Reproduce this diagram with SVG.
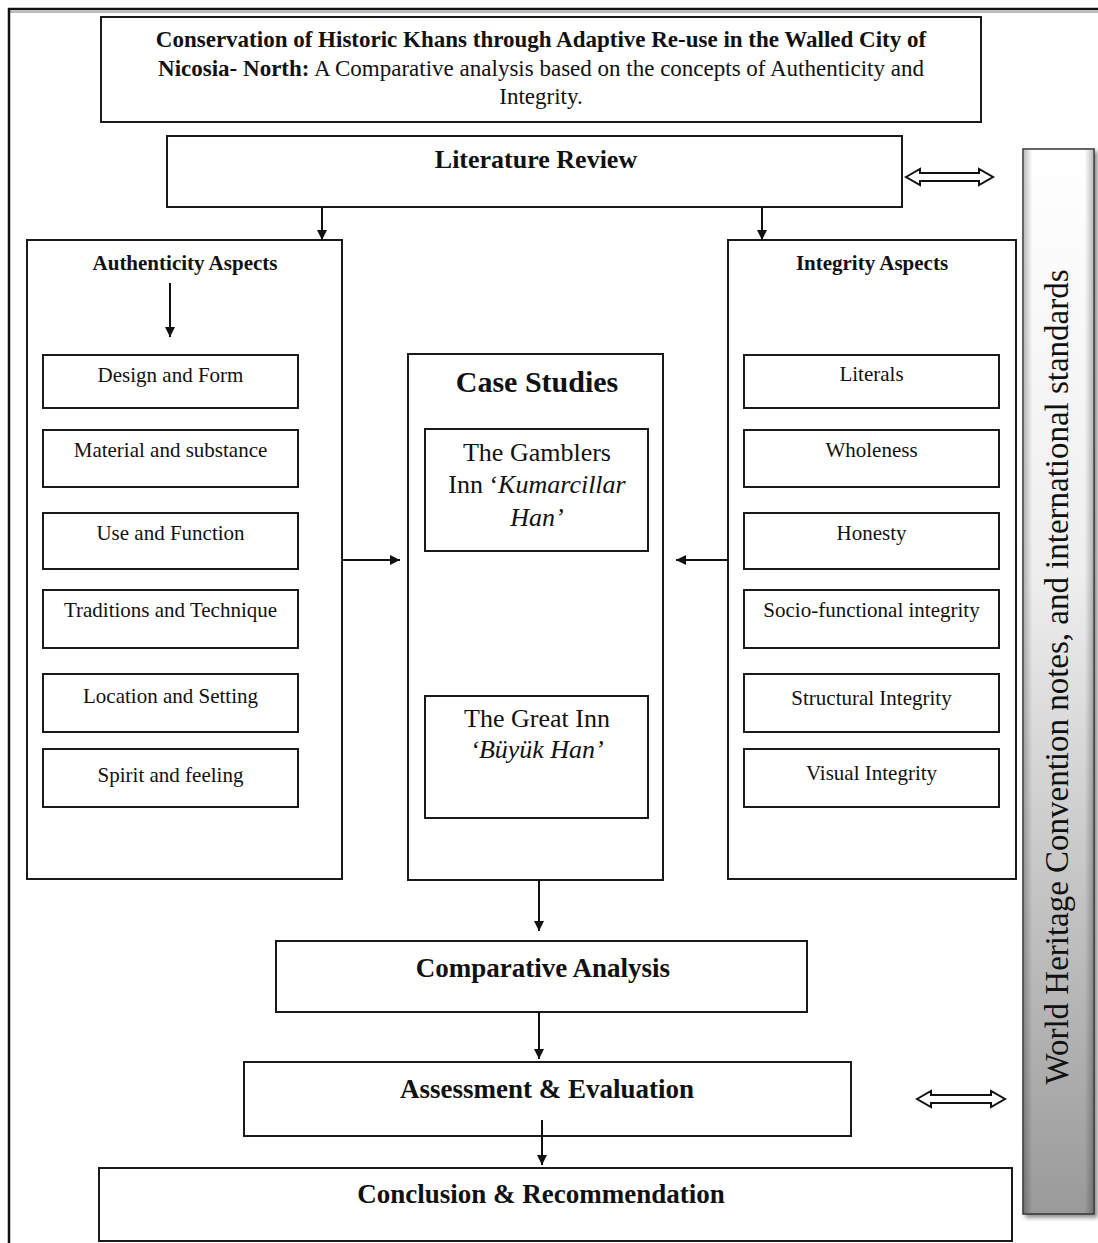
<svg xmlns="http://www.w3.org/2000/svg" width="1098" height="1243" viewBox="0 0 1098 1243">
  <style>
    .box { fill: #ffffff; stroke: #1a1a1a; stroke-width: 2; }
    .t { font-family: "Liberation Serif", "Times New Roman", serif; fill: #111; text-anchor: middle; }
    .b { font-weight: bold; }
    .i { font-style: italic; }
    .s21 { font-size: 21px; }
    .s26 { font-size: 26px; }
    .s27 { font-size: 27px; }
    .conn { stroke: #111; stroke-width: 2; fill: none; marker-end: url(#arrow); }
    .dbl { fill: #ffffff; stroke: #111; stroke-width: 2; stroke-linejoin: miter; }
  </style>
  <defs>
    <marker id="arrow" markerUnits="userSpaceOnUse" markerWidth="11" markerHeight="11" refX="10" refY="5" orient="auto">
      <path d="M0,0 L10,5 L0,10 Z" fill="#111"/>
    </marker>
    <linearGradient id="barFill" x1="0" y1="0" x2="0" y2="1">
      <stop offset="0" stop-color="#ffffff"/>
      <stop offset="0.4" stop-color="#eeeeee"/>
      <stop offset="0.7" stop-color="#c4c4c4"/>
      <stop offset="1" stop-color="#9a9a9a"/>
    </linearGradient>
    <linearGradient id="barEdge" x1="0" y1="0" x2="1" y2="0">
      <stop offset="0" stop-color="#000" stop-opacity="0.25"/>
      <stop offset="0.12" stop-color="#000" stop-opacity="0"/>
      <stop offset="0.88" stop-color="#000" stop-opacity="0"/>
      <stop offset="1" stop-color="#000" stop-opacity="0.25"/>
    </linearGradient>
    <filter id="shadow" x="-20%" y="-5%" width="140%" height="110%">
      <feGaussianBlur in="SourceAlpha" stdDeviation="2"/>
      <feOffset dx="3" dy="3" result="o"/>
      <feComponentTransfer><feFuncA type="linear" slope="0.45"/></feComponentTransfer>
      <feMerge><feMergeNode/><feMergeNode in="SourceGraphic"/></feMerge>
    </filter>
  </defs>

  <rect x="0" y="0" width="1098" height="1243" fill="#ffffff"/>

  <!-- outer page frame -->
  <g id="frame">
    <line x1="9" y1="12" x2="1098" y2="12" stroke="#bbbbbb" stroke-width="2"/>
    <path d="M9,1243 V9 H1098" fill="none" stroke="#111" stroke-width="2.5"/>
  </g>

  <!-- title -->
  <g id="title">
    <rect class="box" x="101" y="17" width="880" height="105"/>
    <text class="t b" x="541" y="47" font-size="23">Conservation of Historic Khans through Adaptive Re-use in the Walled City of</text>
    <text class="t" x="541" y="76" font-size="23"><tspan class="b">Nicosia- North:</tspan> A Comparative analysis based on the concepts of Authenticity and</text>
    <text class="t" x="541" y="104" font-size="23">Integrity.</text>
  </g>

  <!-- literature review -->
  <g id="literature-review">
    <rect class="box" x="167" y="136" width="735" height="71"/>
    <text class="t b s26" x="536" y="168">Literature Review</text>
  </g>

  <!-- authenticity aspects -->
  <g id="authenticity">
    <rect class="box" x="27" y="240" width="315" height="639"/>
    <text class="t b s21" x="185" y="270">Authenticity Aspects</text>
  </g>
  <g id="auth-design"><rect class="box" x="43" y="355" width="255" height="53"/><text class="t s21" x="170.5" y="382">Design and Form</text></g>
  <g id="auth-material"><rect class="box" x="43" y="430" width="255" height="57"/><text class="t s21" x="170.5" y="457">Material and substance</text></g>
  <g id="auth-use"><rect class="box" x="43" y="513" width="255" height="56"/><text class="t s21" x="170.5" y="540">Use and Function</text></g>
  <g id="auth-traditions"><rect class="box" x="43" y="590" width="255" height="58"/><text class="t s21" x="170.5" y="617">Traditions and Technique</text></g>
  <g id="auth-location"><rect class="box" x="43" y="674" width="255" height="58"/><text class="t s21" x="170.5" y="703">Location and Setting</text></g>
  <g id="auth-spirit"><rect class="box" x="43" y="749" width="255" height="58"/><text class="t s21" x="170.5" y="782">Spirit and feeling</text></g>

  <!-- integrity aspects -->
  <g id="integrity">
    <rect class="box" x="728" y="240" width="288" height="639"/>
    <text class="t b s21" x="872" y="270">Integrity Aspects</text>
  </g>
  <g id="int-literals"><rect class="box" x="744" y="355" width="255" height="53"/><text class="t s21" x="871.5" y="381">Literals</text></g>
  <g id="int-wholeness"><rect class="box" x="744" y="430" width="255" height="57"/><text class="t s21" x="871.5" y="457">Wholeness</text></g>
  <g id="int-honesty"><rect class="box" x="744" y="513" width="255" height="56"/><text class="t s21" x="871.5" y="540">Honesty</text></g>
  <g id="int-socio"><rect class="box" x="744" y="590" width="255" height="58"/><text class="t s21" x="871.5" y="617">Socio-functional integrity</text></g>
  <g id="int-structural"><rect class="box" x="744" y="674" width="255" height="58"/><text class="t s21" x="871.5" y="705">Structural Integrity</text></g>
  <g id="int-visual"><rect class="box" x="744" y="749" width="255" height="58"/><text class="t s21" x="871.5" y="780">Visual Integrity</text></g>

  <!-- case studies -->
  <g id="case-studies">
    <rect class="box" x="408" y="354" width="255" height="526"/>
    <text class="t b" x="537" y="392" font-size="30">Case Studies</text>
  </g>
  <g id="case-gamblers">
    <rect class="box" x="425" y="429" width="223" height="122"/>
    <text class="t s26" x="537" y="461">The Gamblers</text>
    <text class="t s26" x="537" y="493">Inn ‘<tspan class="i">Kumarcillar</tspan></text>
    <text class="t s26 i" x="537" y="526">Han’</text>
  </g>
  <g id="case-great-inn">
    <rect class="box" x="425" y="696" width="223" height="122"/>
    <text class="t s26" x="537" y="727">The Great Inn</text>
    <text class="t s26 i" x="537" y="758">‘Büyük Han’</text>
  </g>

  <!-- comparative analysis -->
  <g id="comparative-analysis">
    <rect class="box" x="276" y="941" width="531" height="71"/>
    <text class="t b s27" x="543" y="977">Comparative Analysis</text>
  </g>

  <!-- assessment and evaluation -->
  <g id="assessment">
    <rect class="box" x="244" y="1062" width="607" height="74"/>
    <text class="t b s27" x="547" y="1098">Assessment &amp; Evaluation</text>
  </g>

  <!-- conclusion -->
  <g id="conclusion">
    <rect class="box" x="99" y="1168" width="913" height="73"/>
    <text class="t b s27" x="541" y="1203">Conclusion &amp; Recommendation</text>
  </g>

  <!-- side bar: standards -->
  <g id="standards">
    <rect x="1023" y="149" width="71" height="1065" fill="url(#barFill)" stroke="#333" stroke-width="1.5" filter="url(#shadow)"/>
    <rect x="1024" y="150" width="69" height="1063" fill="url(#barEdge)"/>
    <text class="t" font-size="33" transform="translate(1068,677) rotate(-90)" textLength="815" lengthAdjust="spacingAndGlyphs">World Heritage Convention notes, and international standards</text>
  </g>

  <!-- connectors -->
  <g id="connectors">
    <line class="conn" x1="322" y1="207" x2="322" y2="240"/>
    <line class="conn" x1="762" y1="207" x2="762" y2="240"/>
    <line class="conn" x1="170" y1="283" x2="170" y2="337"/>
    <line class="conn" x1="342" y1="560" x2="400" y2="560"/>
    <line class="conn" x1="728" y1="560" x2="676" y2="560"/>
    <line class="conn" x1="539" y1="880" x2="539" y2="931"/>
    <line class="conn" x1="539" y1="1012" x2="539" y2="1059"/>
    <line class="conn" x1="542" y1="1120" x2="542" y2="1165"/>
    <path class="dbl" d="M906,177 L920,169 L920,173 L979,173 L979,169 L993,177 L979,185 L979,181 L920,181 L920,185 Z"/>
    <path class="dbl" d="M917,1099 L931,1091 L931,1095 L991,1095 L991,1091 L1005,1099 L991,1107 L991,1103 L931,1103 L931,1107 Z"/>
  </g>
</svg>
